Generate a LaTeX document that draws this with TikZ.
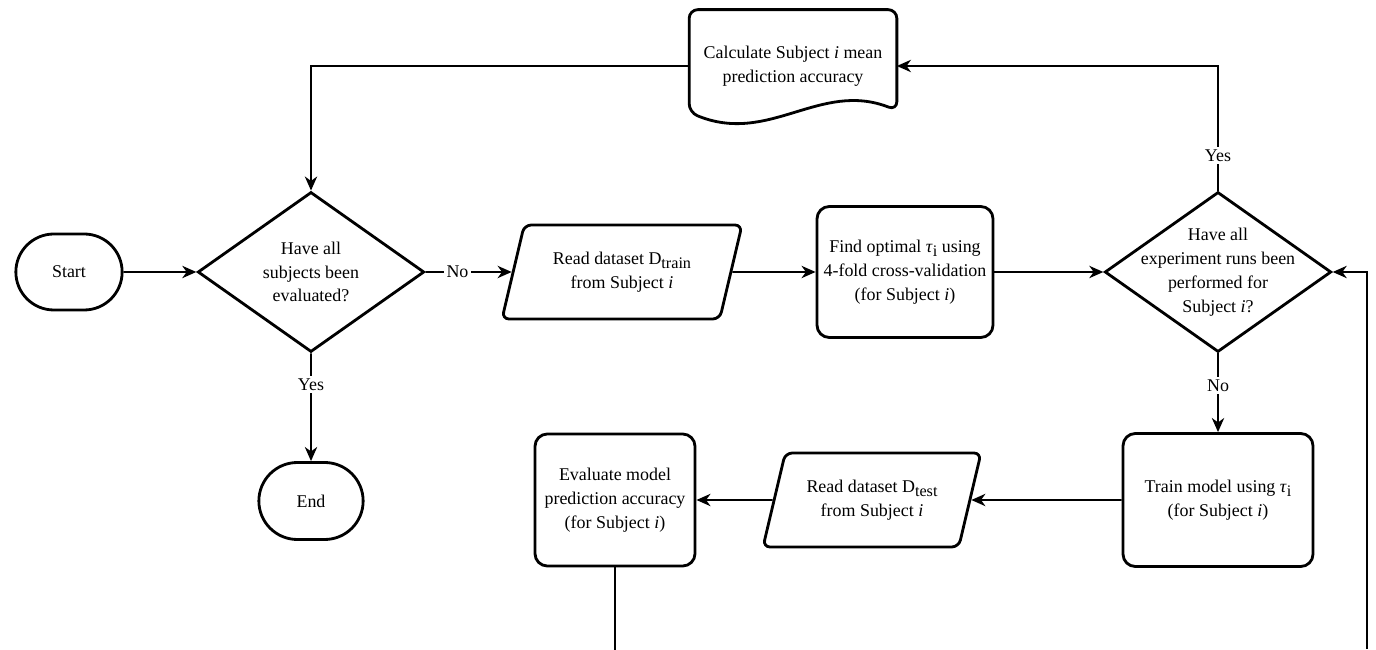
\documentclass[tikz,border=0pt]{standalone}
\usepackage{fontspec}
\setmainfont{LiberationSerif}[Extension=.ttf, UprightFont=*-Regular, ItalicFont=*-Italic, BoldFont=*-Bold, BoldItalicFont=*-BoldItalic]
\usetikzlibrary{arrows.meta, positioning, shapes.geometric, shapes.misc, calc}
\newcommand{\lowtxt}[1]{\raisebox{-.45ex}{\fontsize{9.2}{9.2}\selectfont #1}}
\tikzset{%
	term/.style={draw, rounded rectangle, line width=1.6pt, minimum width=2.36cm, minimum height=1.52cm},
	proc/.style={draw, rectangle, rounded corners=7pt, line width=1.6pt, minimum height=2.64cm, align=center},
	io/.style={draw, trapezium, trapezium left angle=63, trapezium right angle=117,%
		trapezium stretches body, rounded corners=4pt, line width=1.6pt, minimum height=1.88cm,%
		inner sep=1pt, align=center},
	dec/.style={draw, diamond, line width=1.6pt, minimum width=4.53cm, minimum height=3.2cm, inner sep=0pt},
	doc/.style={rectangle, minimum width=4.14cm, minimum height=2.24cm, align=center},
	sel/.style={-{Stealth[length=8pt, width=7pt, inset=2.5pt]}, line width=1.1pt},
	connector/.style={line width=1.1pt},
	lbl/.style={fill=white, inner sep=1.5pt},
	every label/.style={align=center}
}

\begin{document}
\begin{tikzpicture}[on grid, font=\rmfamily\fontsize{10.2}{13.6}\selectfont]
	\useasboundingbox (-1.38,-7.56) rectangle (26.14,5.44);

	\node[term] (start) {Start};
	\node[dec, right=4.84cm of start, label={center:Have all\\subjects been\\evaluated?}] (dec1) {};
	\node[io, right=6.22cm of dec1, minimum width=4.8cm] (rdtrain) {Read dataset D\lowtxt{train}\\from Subject \textit{i}};
	\node[proc, right=5.66cm of rdtrain, minimum width=3.52cm, minimum height=2.62cm] (find) {Find optimal \textit{τ}\lowtxt{i} using\\4-fold cross-validation\\(for Subject \textit{i})};
	\node[dec, right=6.26cm of find, label={center:Have all\\experiment runs been\\performed for\\Subject \textit{i}?}] (dec2) {};
	\node[proc, below=4.56cm of dec2, minimum width=3.8cm, minimum height=2.66cm] (train) {Train model using \textit{τ}\lowtxt{i}\\(for Subject \textit{i})};
	\node[io, left=6.92cm of train, minimum width=4.36cm] (rdtest) {Read dataset D\lowtxt{test}\\from Subject \textit{i}};
	\node[proc, left=5.14cm of rdtest, minimum width=3.2cm] (eval) {Evaluate model\\prediction accuracy\\(for Subject \textit{i})};
	\node[term, below=4.58cm of dec1, minimum width=2.32cm, minimum height=1.54cm] (endn) {End};
	\node[doc, above right=4.12cm and 9.64cm of dec1] (acc) {Calculate Subject \textit{i} mean\\prediction accuracy};
	\draw[line width=1.6pt, rounded corners=5pt] ([yshift=.24cm]acc.south east)
		.. controls +(-1.54,.6) and +(1.6,-.66) .. ([yshift=.2cm]acc.south west)
		-- (acc.north west) -- (acc.north east) -- cycle;

	\coordinate[below=1.68cm of eval.south] (evalout);
	\coordinate[below right=7.54cm and 2.98cm of dec2] (loopin);

	\draw[sel] (start) -- (dec1);
	\draw[sel] (dec1) -- node[lbl, pos=.37] {No} (rdtrain);
	\draw[sel] (dec1) -- node[lbl, pos=.29] {Yes} (endn);
	\draw[sel] (rdtrain) -- (find);
	\draw[sel] (find) -- (dec2);
	\draw[sel] (dec2) -- node[lbl, pos=.41] {No} (train);
	\draw[sel] (train) -- (rdtest);
	\draw[sel] (rdtest) -- (eval);
	\draw[sel] (dec2.north) |- node[lbl, pos=.14] {Yes} (acc.east);
	\draw[sel] (acc.west) -| (dec1.north);
	\draw[connector] (eval) -- (evalout);
	\draw[sel] (loopin) |- (dec2.east);
\end{tikzpicture}
\end{document}
